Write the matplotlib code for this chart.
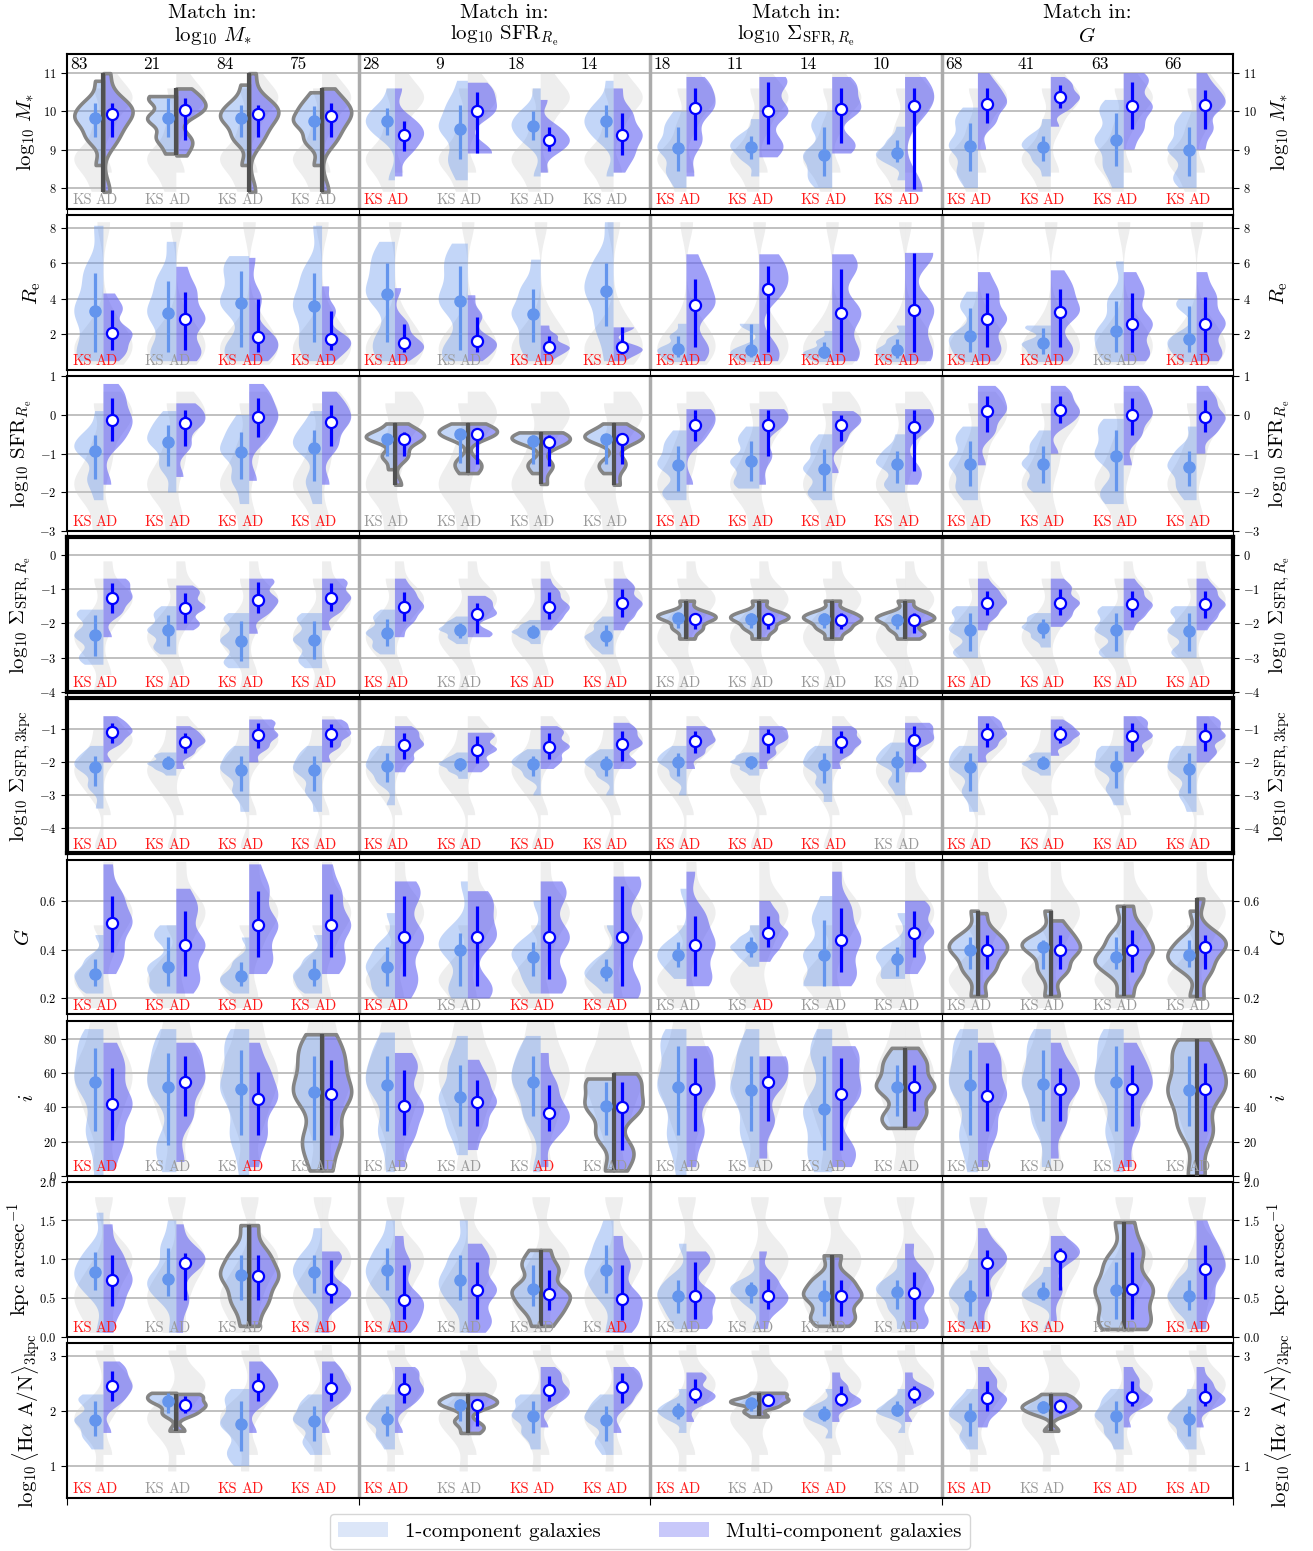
import matplotlib
matplotlib.use('Agg')
from matplotlib import pyplot as plt
from matplotlib.patches import Patch
import numpy as np

plt.rcParams['font.family'] = 'cmr10'
plt.rcParams['mathtext.fontset'] = 'cm'
plt.rcParams['axes.formatter.use_mathtext'] = True

# ---- data (16 groups per row: 4 matching schemes x 4 classes) ----
col_titles = [r'$\log_{10}\,M_{*}$', r'$\log_{10}\,{\rm SFR}_{R_{\rm e}}$',
              r'$\log_{10}\,\Sigma_{{\rm SFR},R_{\rm e}}$', r'$G$']
counts = [83, 21, 84, 75, 28, 9, 18, 14, 18, 11, 14, 10, 68, 41, 63, 66]

# log M*
mass_med1 = [9.82, 9.82, 9.82, 9.74, 9.74, 9.55, 9.63, 9.74, 9.05, 9.08, 8.87, 8.92, 9.10, 9.08, 9.26, 9.00]
mass_lo1 = [9.32, 9.32, 9.32, 9.24, 9.39, 8.76, 9.24, 9.32, 8.45, 8.76, 8.32, 8.68, 8.45, 8.71, 8.58, 8.32]
mass_hi1 = [10.21, 10.34, 10.18, 10.13, 10.08, 10.16, 10.0, 10.16, 9.58, 9.37, 9.58, 9.24, 9.71, 9.37, 9.97, 9.58]
mass_med2 = [9.92, 10.03, 9.92, 9.87, 9.39, 10.0, 9.26, 9.39, 10.08, 10.0, 10.05, 10.13, 10.2, 10.37, 10.13, 10.16]
mass_lo2 = [9.32, 9.24, 9.32, 9.32, 8.97, 8.92, 8.97, 8.87, 9.24, 9.16, 9.18, 7.97, 9.71, 10.08, 9.55, 9.55]
mass_hi2 = [10.21, 10.34, 10.18, 10.21, 9.76, 10.5, 9.58, 9.95, 10.6, 10.76, 10.6, 10.6, 10.6, 10.68, 10.76, 10.55]
mass_min1 = [8.6, 8.9, 8.6, 8.6, 8.2, 8.2, 8.3, 8.3, 8.0, 8.3, 8.0, 8.2, 8.0, 8.3, 8.0, 8.0]
mass_max1 = [10.8, 10.4, 10.7, 10.5, 10.6, 10.8, 10.6, 10.8, 10.0, 9.8, 10.0, 9.6, 10.1, 9.8, 10.3, 10.0]
mass_min2 = [7.9, 8.85, 7.9, 7.9, 8.3, 8.9, 8.4, 8.4, 8.3, 8.8, 8.9, 7.9, 9.0, 9.6, 9.0, 9.0]
mass_max2 = [11.0, 10.6, 11.0, 10.6, 10.6, 10.75, 10.3, 10.6, 10.9, 10.9, 10.9, 10.9, 11.0, 10.9, 11.0, 11.0]
mass_gray1 = [7.9, 8.4, 8.7, 8.8, 9.0, 9.6, 10.6]
mass_gray2 = [8.4, 9.6, 10.1, 10.3, 10.4, 10.6, 11.0]
mass_flags = "GG GG GG GG RR GG GG GG RR RR RR RR RR RR RR RR"

# R_e
re_med1 = [3.3, 3.2, 3.75, 3.6, 4.25, 3.86, 3.13, 4.43, 1.2, 1.15, 1.04, 1.15, 1.9, 1.5, 2.17, 1.77]
re_lo1 = [1.04, 1.04, 1.3, 1.6, 1.6, 1.15, 1.6, 2.45, 0.75, 0.75, 0.7, 0.7, 1.04, 0.93, 1.04, 1.04]
re_hi1 = [5.45, 5.0, 5.56, 5.45, 6.0, 5.84, 4.54, 6.0, 1.9, 2.56, 1.6, 1.72, 3.5, 2.34, 3.86, 3.58]
re_med2 = [2.1, 2.85, 1.83, 1.77, 1.5, 1.66, 1.32, 1.27, 3.64, 4.54, 3.2, 3.4, 2.85, 3.24, 2.6, 2.6]
re_lo2 = [1.15, 1.15, 1.04, 1.15, 1.04, 1.04, 0.93, 0.93, 1.3, 1.04, 1.04, 1.04, 1.3, 1.3, 1.04, 1.04]
re_hi2 = [3.4, 4.4, 3.97, 3.3, 2.56, 3.0, 1.9, 2.4, 5.1, 5.84, 5.67, 6.58, 4.3, 4.54, 4.3, 4.1]
re_min1 = [0.5, 0.5, 0.5, 0.5, 0.5, 0.5, 0.5, 0.5, 0.45, 0.45, 0.45, 0.45, 0.45, 0.45, 0.45, 0.45]
re_max1 = [8.1, 7.2, 6.4, 8.1, 7.2, 7.1, 6.2, 8.3, 2.6, 2.6, 2.2, 2.5, 4.4, 2.5, 6.1, 4.0]
re_min2 = [0.5, 0.5, 0.5, 0.5, 0.5, 0.5, 0.5, 0.5, 0.5, 0.5, 0.5, 0.5, 0.5, 0.5, 0.5, 0.5]
re_max2 = [4.3, 5.8, 6.3, 4.7, 4.6, 4.2, 2.5, 2.4, 6.5, 6.5, 6.5, 6.5, 5.5, 5.6, 5.5, 5.5]
re_gray1 = [0.3, 0.8, 1.1, 1.3, 1.6, 2.5, 8.3]
re_gray2 = [0.3, 0.9, 1.3, 1.5, 2.0, 3.0, 8.3]
re_flags = "RR GG RR RR RR GG RR RR RR RR RR RR RR RR GG RR"

# log SFR(Re)
sfr_med1 = [-0.92, -0.69, -0.95, -0.84, -0.61, -0.5, -0.66, -0.61, -1.29, -1.2, -1.39, -1.26, -1.26, -1.26, -1.05, -1.34]
sfr_lo1 = [-1.65, -1.31, -1.65, -1.7, -1.05, -1.23, -1.26, -1.26, -1.96, -1.7, -1.96, -1.75, -1.83, -1.75, -1.96, -1.83]
sfr_hi1 = [-0.53, -0.27, -0.45, -0.4, -0.48, -0.4, -0.53, -0.48, -0.79, -0.66, -0.87, -0.92, -0.66, -0.79, -0.4, -0.92]
sfr_med2 = [-0.14, -0.22, -0.06, -0.17, -0.61, -0.48, -0.71, -0.61, -0.25, -0.25, -0.25, -0.32, 0.09, 0.12, 0.0, -0.06]
sfr_lo2 = [-0.66, -0.79, -0.58, -0.79, -1.05, -1.26, -1.31, -1.26, -0.66, -1.05, -0.66, -1.44, -0.45, -0.2, -0.53, -0.45]
sfr_hi2 = [0.43, 0.12, 0.43, 0.25, -0.45, -0.4, -0.53, -0.48, 0.12, 0.12, 0.0, 0.12, 0.5, 0.5, 0.43, 0.38]
sfr_min1 = [-2.2, -2.0, -2.3, -2.3, -1.4, -1.5, -1.5, -1.5, -2.2, -1.9, -2.2, -2.0, -2.2, -2.0, -2.3, -2.2]
sfr_max1 = [0.1, 0.1, 0.0, 0.1, -0.22, -0.22, -0.45, -0.22, -0.4, -0.3, -0.5, -0.5, -0.3, -0.4, -0.1, -0.3]
sfr_min2 = [-1.8, -1.6, -1.7, -1.8, -1.8, -1.5, -1.78, -1.8, -1.8, -1.8, -1.5, -1.8, -1.3, -1.0, -1.3, -1.0]
sfr_max2 = [0.8, 0.3, 0.8, 0.6, -0.22, -0.22, -0.45, -0.22, 0.15, 0.15, 0.1, 0.15, 0.75, 0.75, 0.75, 0.75]
sfr_gray1 = [-3.0, -2.2, -1.9, -1.7, -1.4, -0.8, 0.3]
sfr_gray2 = [-2.8, -1.2, -0.4, -0.1, 0.05, 0.2, 0.6]
sfr_flags = "RR RR RR RR GG GG GG GG RR RR RR RR RR RR RR RR"

# log Sigma_SFR(Re)
ssfr_med1 = [-2.35, -2.2, -2.5, -2.47, -2.27, -2.18, -2.24, -2.38, -1.83, -1.86, -1.86, -1.89, -2.18, -2.12, -2.18, -2.21]
ssfr_lo1 = [-2.94, -2.65, -3.08, -3.02, -2.65, -2.41, -2.41, -2.65, -2.12, -2.12, -2.12, -2.15, -2.79, -2.41, -2.79, -2.79]
ssfr_hi1 = [-1.77, -1.77, -1.92, -1.92, -1.86, -1.98, -2.06, -2.06, -1.69, -1.69, -1.69, -1.72, -1.69, -1.86, -1.69, -1.69]
ssfr_med2 = [-1.25, -1.54, -1.31, -1.25, -1.51, -1.74, -1.51, -1.42, -1.86, -1.86, -1.89, -1.89, -1.4, -1.4, -1.45, -1.45]
ssfr_lo2 = [-1.69, -1.98, -1.69, -1.63, -1.92, -2.27, -1.86, -1.8, -2.15, -2.15, -2.15, -2.27, -1.77, -1.77, -1.8, -1.83]
ssfr_hi2 = [-0.84, -1.13, -0.81, -0.84, -1.1, -1.4, -1.1, -0.99, -1.69, -1.69, -1.69, -1.69, -1.05, -0.99, -1.05, -1.05]
ssfr_min1 = [-3.2, -2.9, -3.3, -3.3, -2.9, -2.6, -2.6, -2.9, -2.44, -2.44, -2.44, -2.44, -3.0, -2.7, -3.0, -3.0]
ssfr_max1 = [-1.6, -1.5, -1.7, -1.7, -1.6, -1.8, -1.9, -1.8, -1.34, -1.34, -1.34, -1.34, -1.5, -1.7, -1.5, -1.5]
ssfr_min2 = [-2.4, -2.2, -2.3, -2.2, -2.4, -2.4, -2.2, -2.2, -2.44, -2.44, -2.44, -2.44, -2.2, -2.1, -2.2, -2.2]
ssfr_max2 = [-0.7, -0.9, -0.7, -0.7, -0.7, -1.2, -0.7, -0.7, -1.34, -1.34, -1.34, -1.34, -0.7, -0.7, -0.7, -0.7]
ssfr_gray1 = [-4.0, -3.0, -2.6, -2.4, -2.2, -1.8, -0.7]
ssfr_gray2 = [-3.5, -2.0, -1.5, -1.35, -1.2, -1.0, -0.2]
ssfr_flags = "RR RR RR RR RR GG RR RR GG GG GG GG RR RR RR RR"

# log Sigma_SFR(3kpc)
s3_med1 = [-2.15, -2.03, -2.24, -2.24, -2.12, -2.06, -2.06, -2.06, -2.0, -2.0, -2.09, -2.0, -2.15, -2.03, -2.12, -2.21]
s3_lo1 = [-2.73, -2.21, -2.88, -2.88, -2.58, -2.27, -2.42, -2.42, -2.42, -2.21, -2.64, -2.58, -2.88, -2.21, -2.79, -2.94]
s3_hi1 = [-1.82, -1.82, -1.82, -1.82, -1.73, -1.88, -1.82, -1.82, -1.73, -1.82, -1.73, -1.67, -1.73, -1.82, -1.67, -1.73]
s3_med2 = [-1.09, -1.39, -1.18, -1.15, -1.48, -1.61, -1.52, -1.45, -1.36, -1.3, -1.39, -1.33, -1.15, -1.15, -1.21, -1.21]
s3_lo2 = [-1.42, -1.73, -1.55, -1.52, -1.91, -2.03, -1.91, -1.97, -1.73, -1.73, -1.73, -2.03, -1.52, -1.42, -1.67, -1.67]
s3_hi2 = [-0.82, -1.12, -0.82, -0.85, -1.12, -1.21, -1.12, -1.06, -1.06, -1.0, -1.06, -0.91, -0.82, -0.91, -0.82, -0.82]
s3_min1 = [-3.4, -2.4, -3.5, -3.5, -3.3, -2.5, -3.0, -3.0, -3.0, -2.4, -3.2, -3.0, -3.5, -2.4, -3.3, -3.5]
s3_max1 = [-1.5, -1.7, -1.5, -1.5, -1.5, -1.7, -1.6, -1.6, -1.5, -1.7, -1.5, -1.4, -1.5, -1.7, -1.5, -1.5]
s3_min2 = [-2.0, -2.2, -2.0, -2.0, -2.3, -2.3, -2.2, -2.2, -2.2, -2.2, -2.2, -2.3, -2.0, -1.8, -2.0, -2.0]
s3_max2 = [-0.6, -0.9, -0.7, -0.7, -0.9, -1.1, -0.9, -0.8, -0.9, -0.9, -0.9, -0.8, -0.6, -0.7, -0.6, -0.6]
s3_gray1 = [-4.6, -3.0, -2.5, -2.3, -2.1, -1.8, -1.0]
s3_gray2 = [-3.6, -1.9, -1.5, -1.35, -1.25, -1.1, -0.6]
s3_flags = "RR RR RR RR RR RR RR RR RR RR RR GG RR RR RR RR"

# Gini G
gini_med1 = [0.30, 0.33, 0.29, 0.30, 0.33, 0.40, 0.37, 0.31, 0.38, 0.41, 0.38, 0.36, 0.40, 0.41, 0.37, 0.38]
gini_lo1 = [0.25, 0.25, 0.25, 0.25, 0.25, 0.25, 0.29, 0.27, 0.33, 0.37, 0.25, 0.29, 0.32, 0.32, 0.32, 0.33]
gini_hi1 = [0.36, 0.45, 0.35, 0.36, 0.41, 0.47, 0.43, 0.36, 0.43, 0.45, 0.52, 0.41, 0.45, 0.44, 0.45, 0.44]
gini_med2 = [0.51, 0.42, 0.50, 0.50, 0.45, 0.45, 0.45, 0.45, 0.42, 0.47, 0.44, 0.47, 0.40, 0.40, 0.40, 0.41]
gini_lo2 = [0.39, 0.29, 0.37, 0.37, 0.29, 0.25, 0.28, 0.25, 0.29, 0.41, 0.31, 0.37, 0.32, 0.32, 0.31, 0.32]
gini_hi2 = [0.62, 0.56, 0.64, 0.63, 0.62, 0.58, 0.62, 0.66, 0.54, 0.54, 0.57, 0.56, 0.46, 0.46, 0.48, 0.46]
gini_min1 = [0.22, 0.22, 0.22, 0.22, 0.2, 0.2, 0.22, 0.22, 0.28, 0.33, 0.25, 0.28, 0.21, 0.21, 0.21, 0.21]
gini_max1 = [0.46, 0.5, 0.45, 0.46, 0.55, 0.68, 0.6, 0.5, 0.65, 0.5, 0.62, 0.55, 0.56, 0.56, 0.58, 0.56]
gini_min2 = [0.3, 0.22, 0.3, 0.3, 0.2, 0.2, 0.22, 0.2, 0.25, 0.35, 0.25, 0.3, 0.21, 0.21, 0.21, 0.2]
gini_max2 = [0.75, 0.65, 0.75, 0.75, 0.68, 0.64, 0.68, 0.7, 0.72, 0.6, 0.72, 0.6, 0.55, 0.52, 0.58, 0.61]
gini_gray1 = [0.16, 0.22, 0.26, 0.28, 0.31, 0.36, 0.50]
gini_gray2 = [0.20, 0.40, 0.50, 0.54, 0.57, 0.62, 0.76]
gini_flags = "RR RR RR RR RR GG RR RR GG GR GG GG GG GG GG GG"

# inclination i
incl_med1 = [55, 52, 51, 49, 53, 46, 55, 41, 52, 50, 39, 52, 53, 54, 55, 50]
incl_lo1 = [26, 18, 24, 21, 26, 29, 35, 24, 24, 26, 15, 35, 24, 32, 26, 29]
incl_hi1 = [75, 72, 74, 70, 70, 65, 70, 55, 76, 70, 70, 65, 74, 74, 76, 70]
incl_med2 = [42, 55, 45, 48, 41, 43, 37, 40, 51, 55, 48, 52, 47, 51, 51, 51]
incl_lo2 = [21, 35, 24, 24, 24, 29, 26, 15, 26, 32, 15, 38, 26, 32, 29, 26]
incl_hi2 = [63, 70, 61, 68, 62, 56, 53, 55, 69, 70, 69, 65, 66, 63, 65, 66]
incl_min1 = [0, 2, 0, 3, 2, 12, 2, 3, 0, 5, 2, 28, 2, 5, 2, 0]
incl_max1 = [86, 86, 86, 83, 84, 82, 82, 57, 86, 86, 86, 75, 86, 86, 86, 80]
incl_min2 = [3, 8, 5, 3, 5, 15, 5, 3, 5, 10, 5, 28, 5, 10, 5, 0]
incl_max2 = [78, 78, 78, 83, 72, 68, 72, 60, 76, 70, 76, 75, 78, 78, 78, 80]
incl_gray1 = [3, 30, 45, 55, 62, 72, 90]
incl_gray2 = [3, 30, 45, 55, 62, 72, 90]
incl_flags = "RR GG GR GG GG GG GR GG GG GG GG GG GG GG GR GG"

# kpc/arcsec
scale_med1 = [0.83, 0.75, 0.79, 0.83, 0.86, 0.73, 0.61, 0.86, 0.53, 0.6, 0.53, 0.58, 0.53, 0.56, 0.6, 0.53]
scale_lo1 = [0.6, 0.53, 0.47, 0.57, 0.6, 0.47, 0.4, 0.57, 0.31, 0.44, 0.27, 0.36, 0.27, 0.47, 0.23, 0.34]
scale_hi1 = [1.09, 1.14, 1.06, 1.06, 1.14, 1.05, 0.92, 1.18, 0.73, 0.7, 0.73, 0.73, 0.73, 0.7, 0.96, 0.73]
scale_med2 = [0.73, 0.95, 0.78, 0.61, 0.48, 0.6, 0.55, 0.49, 0.52, 0.53, 0.52, 0.57, 0.95, 1.04, 0.62, 0.88]
scale_lo2 = [0.4, 0.47, 0.47, 0.44, 0.23, 0.23, 0.34, 0.21, 0.23, 0.36, 0.27, 0.23, 0.53, 0.6, 0.23, 0.49]
scale_hi2 = [1.05, 1.08, 1.06, 0.99, 0.92, 0.96, 0.86, 0.92, 0.96, 0.75, 0.73, 0.83, 1.12, 1.14, 1.09, 1.18]
scale_min1 = [0.05, 0.05, 0.14, 0.05, 0.05, 0.05, 0.14, 0.05, 0.1, 0.1, 0.14, 0.1, 0.1, 0.1, 0.1, 0.1]
scale_max1 = [1.6, 1.5, 1.44, 1.4, 1.5, 1.5, 1.12, 1.5, 1.2, 1.0, 1.05, 1.0, 1.0, 0.9, 1.48, 1.0]
scale_min2 = [0.05, 0.05, 0.14, 0.05, 0.05, 0.05, 0.14, 0.05, 0.1, 0.1, 0.14, 0.1, 0.1, 0.2, 0.1, 0.1]
scale_max2 = [1.45, 1.45, 1.44, 1.1, 1.3, 1.2, 1.12, 1.3, 1.1, 1.1, 1.05, 1.2, 1.4, 1.3, 1.48, 1.5]
scale_gray1 = [0.05, 0.3, 0.45, 0.55, 0.65, 0.9, 1.8]
scale_gray2 = [0.05, 0.5, 0.8, 0.95, 1.05, 1.2, 1.8]
scale_flags = "RR GG GG RR RR GG GG GR GG GG GG GG RR RR GG RR"

# log Halpha A/N (3kpc)
han_med1 = [1.84, 2.18, 1.76, 1.82, 1.85, 2.11, 1.91, 1.84, 2.0, 2.15, 1.95, 2.02, 1.91, 2.07, 1.91, 1.85]
han_lo1 = [1.55, 1.96, 1.27, 1.45, 1.55, 1.82, 1.6, 1.45, 1.85, 2.0, 1.82, 1.91, 1.55, 1.96, 1.6, 1.55]
han_hi1 = [2.18, 2.33, 2.18, 2.09, 2.09, 2.22, 2.18, 2.09, 2.15, 2.22, 2.09, 2.18, 2.15, 2.18, 2.18, 2.09]
han_med2 = [2.45, 2.11, 2.45, 2.42, 2.4, 2.11, 2.38, 2.44, 2.31, 2.2, 2.22, 2.31, 2.24, 2.09, 2.25, 2.25]
han_lo2 = [2.18, 1.96, 2.18, 2.18, 2.15, 1.73, 2.18, 2.15, 2.15, 2.09, 2.09, 2.15, 2.0, 1.96, 2.09, 2.09]
han_hi2 = [2.73, 2.27, 2.69, 2.69, 2.69, 2.22, 2.64, 2.69, 2.58, 2.31, 2.45, 2.45, 2.55, 2.22, 2.55, 2.51]
han_min1 = [1.3, 1.64, 1.0, 1.2, 1.3, 1.6, 1.3, 1.2, 1.6, 1.9, 1.5, 1.6, 1.3, 1.64, 1.3, 1.3]
han_max1 = [2.3, 2.31, 2.4, 2.3, 2.3, 2.31, 2.3, 2.3, 2.4, 2.33, 2.4, 2.4, 2.4, 2.31, 2.4, 2.4]
han_min2 = [1.6, 1.64, 1.6, 1.6, 1.6, 1.6, 1.7, 1.6, 1.8, 1.9, 1.8, 1.8, 1.7, 1.64, 1.7, 1.7]
han_max2 = [2.9, 2.31, 2.9, 2.9, 2.8, 2.31, 2.8, 2.8, 2.7, 2.33, 2.7, 2.7, 2.8, 2.31, 2.8, 2.8]
han_gray1 = [0.9, 1.5, 1.75, 1.85, 1.95, 2.1, 3.1]
han_gray2 = [1.2, 2.0, 2.3, 2.45, 2.55, 2.7, 3.2]
han_flags = "RR GG RR RR RR GG RR RR RR GG RR GG RR GG RR RR"

rows = [
    (r'$\log_{10}\,M_{*}$', (7.45, 11.5), [8, 9, 10, 11], [0, 1, 2, 3],
     mass_med1, mass_lo1, mass_hi1, mass_med2, mass_lo2, mass_hi2,
     mass_min1, mass_max1, mass_min2, mass_max2, mass_gray1, mass_gray2, mass_flags),
    (r'$R_{\rm e}$', (0, 8.7), [2, 4, 6, 8], [],
     re_med1, re_lo1, re_hi1, re_med2, re_lo2, re_hi2,
     re_min1, re_max1, re_min2, re_max2, re_gray1, re_gray2, re_flags),
    (r'$\log_{10}\,{\rm SFR}_{R_{\rm e}}$', (-3, 1), [-3, -2, -1, 0, 1], [4, 5, 6, 7],
     sfr_med1, sfr_lo1, sfr_hi1, sfr_med2, sfr_lo2, sfr_hi2,
     sfr_min1, sfr_max1, sfr_min2, sfr_max2, sfr_gray1, sfr_gray2, sfr_flags),
    (r'$\log_{10}\,\Sigma_{{\rm SFR},R_{\rm e}}$', (-4, 0.5), [-4, -3, -2, -1, 0], [8, 9, 10, 11],
     ssfr_med1, ssfr_lo1, ssfr_hi1, ssfr_med2, ssfr_lo2, ssfr_hi2,
     ssfr_min1, ssfr_max1, ssfr_min2, ssfr_max2, ssfr_gray1, ssfr_gray2, ssfr_flags),
    (r'$\log_{10}\,\Sigma_{\rm SFR,3kpc}$', (-4.76, -0.06), [-4, -3, -2, -1], [],
     s3_med1, s3_lo1, s3_hi1, s3_med2, s3_lo2, s3_hi2,
     s3_min1, s3_max1, s3_min2, s3_max2, s3_gray1, s3_gray2, s3_flags),
    (r'$G$', (0.134, 0.77), [0.2, 0.4, 0.6], [12, 13, 14, 15],
     gini_med1, gini_lo1, gini_hi1, gini_med2, gini_lo2, gini_hi2,
     gini_min1, gini_max1, gini_min2, gini_max2, gini_gray1, gini_gray2, gini_flags),
    (r'$i$', (0, 91), [0, 20, 40, 60, 80], [3, 7, 11, 15],
     incl_med1, incl_lo1, incl_hi1, incl_med2, incl_lo2, incl_hi2,
     incl_min1, incl_max1, incl_min2, incl_max2, incl_gray1, incl_gray2, incl_flags),
    (r'kpc arcsec$^{-1}$', (0, 2), [0, 0.5, 1, 1.5, 2], [2, 6, 10, 14],
     scale_med1, scale_lo1, scale_hi1, scale_med2, scale_lo2, scale_hi2,
     scale_min1, scale_max1, scale_min2, scale_max2, scale_gray1, scale_gray2, scale_flags),
    (r'$\log_{10}\langle{\rm H}\alpha\ {\rm A/N}\rangle_{\rm 3kpc}$', (0.42, 3.24), [1, 2, 3], [1, 5, 9, 13],
     han_med1, han_lo1, han_hi1, han_med2, han_lo2, han_hi2,
     han_min1, han_max1, han_min2, han_max2, han_gray1, han_gray2, han_flags),
]

# ---- styling ----
c_one = '#6495ED'
c_multi = '#0000FF'
f_one = (0.39, 0.58, 0.93, 0.38)
f_multi = (0.38, 0.38, 0.95, 0.6)
f_gray = (0.78, 0.78, 0.78, 0.3)
flag_col = {'R': '#ff1a1a', 'G': '#9a9a9a'}

W, H = 1313, 1551
fig = plt.figure(figsize=(W / 100, H / 100), dpi=100)

pos = np.arange(16) + 0.5
left, width = 67 / W, 1166 / W


def half(ax, data, side, face, outlined, bw=0.38, z=2):
    parts = ax.violinplot(data, positions=pos, widths=0.8, showextrema=False,
                          side=side, bw_method=bw)
    for k, b in enumerate(parts['bodies']):
        b.set_alpha(None)
        b.set_facecolor(face)
        if k in outlined:
            b.set_edgecolor('#858585')
            b.set_linewidth(2.6)
        else:
            b.set_edgecolor('none')
        b.set_zorder(z)


for r, row in enumerate(rows):
    (ylabel, ylim, yticks, outlined, m1, lo1, hi1, m2, lo2, hi2,
     a1, b1, a2, b2, g1, g2, flags) = row
    top = 54 + 161.1 * r
    ax = fig.add_axes([left, 1 - (top + 155) / H, width, 155 / H])

    # gray background (full samples)
    half(ax, [g1] * 16, 'low', f_gray, [], bw=0.35, z=1)
    half(ax, [g2] * 16, 'high', f_gray, [], bw=0.35, z=1)

    d1 = [[a1[k], lo1[k], lo1[k], m1[k], m1[k], m1[k], hi1[k], hi1[k], b1[k]] for k in range(16)]
    d2 = [[a2[k], lo2[k], lo2[k], m2[k], m2[k], m2[k], hi2[k], hi2[k], b2[k]] for k in range(16)]
    half(ax, d1, 'low', f_one, outlined)
    half(ax, d2, 'high', f_multi, outlined)
    for k in outlined:
        ax.vlines(pos[k], min(a1[k], a2[k]), max(b1[k], b2[k]), color='#505050', lw=3, zorder=3)

    # medians with percentile bars
    ax.vlines(pos - 0.11, lo1, hi1, color=c_one, lw=2.3, zorder=4)
    ax.plot(pos - 0.11, m1, 'o', color=c_one, ms=8, zorder=5)
    ax.vlines(pos + 0.12, lo2, hi2, color=c_multi, lw=2.3, zorder=4)
    ax.plot(pos + 0.12, m2, 'o', mfc='white', mec=c_multi, mew=1.6, ms=8, zorder=5)

    # KS / AD significance labels
    for k, f in enumerate(flags.split()):
        ax.text(pos[k] - 0.43, 0.012, 'KS', color=flag_col[f[0]], fontsize=10.5,
                transform=ax.get_xaxis_transform(), ha='left', va='bottom', zorder=6)
        ax.text(pos[k] - 0.11, 0.012, 'AD', color=flag_col[f[1]], fontsize=10.5,
                transform=ax.get_xaxis_transform(), ha='left', va='bottom', zorder=6)
    if r == 0:
        for k, n in enumerate(counts):
            ax.text(pos[k] - 0.45, 0.985, str(n), fontsize=12.5,
                    transform=ax.get_xaxis_transform(), ha='left', va='top')

    for xv in (4, 8, 12):
        ax.axvline(xv, color='#ababab', lw=2.5, zorder=1.5)
    ax.set_xlim(0, 16)
    ax.set_ylim(*ylim)
    ax.set_yticks(yticks)
    ax.set_xticks([0, 4, 8, 12, 16])
    ax.set_xticklabels([])
    ax.tick_params(axis='y', which='both', left=True, right=True, labelleft=True,
                   labelright=True, labelsize=9, direction='out', length=4)
    ax.tick_params(axis='x', direction='out', length=5)
    ax.yaxis.grid(True, color='#b5b5b5', lw=1.2)
    ax.set_axisbelow(True)
    lw = 3 if r in (3, 4) else 1.5
    for s in ax.spines.values():
        s.set_linewidth(lw)
    ax.set_ylabel(ylabel, fontsize=15, labelpad=4)
    ax.text(1.04, 0.5, ylabel, rotation=90, fontsize=15, transform=ax.transAxes,
            ha='center', va='center')

for c, t in enumerate(col_titles):
    xc = (67 + 291.5 * (c + 0.5)) / W
    fig.text(xc, 1 - 13 / H, 'Match in:', ha='center', va='center', fontsize=15)
    fig.text(xc, 1 - 36 / H, t, ha='center', va='center', fontsize=15)

handles = [Patch(facecolor='#dce6f8', edgecolor='none', label='1-component galaxies'),
           Patch(facecolor='#c8c8fa', edgecolor='none', label='Multi-component galaxies')]
fig.legend(handles=handles, loc='upper center', bbox_to_anchor=(0.495, 1 - 1514 / H),
           ncol=2, fontsize=15, handlelength=2.4, columnspacing=2.8, borderaxespad=0.)

fig.savefig('out.png', dpi=100)
